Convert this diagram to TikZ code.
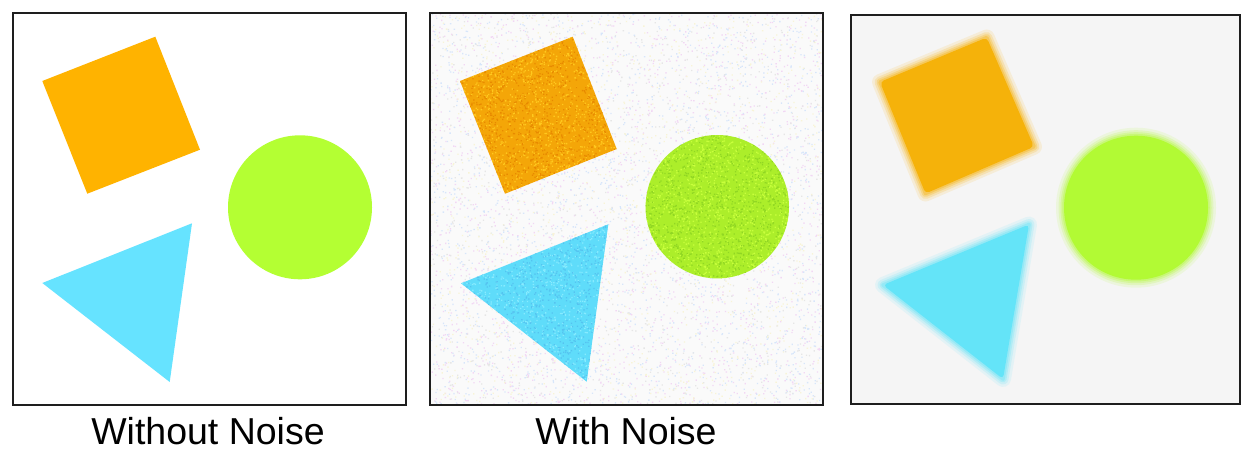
\documentclass[tikz,border=0pt]{standalone}
\usepackage{fontspec}
\setmainfont{Liberation Sans}
\definecolor{sqor}{RGB}{255,179,0}
\definecolor{cigr}{RGB}{180,255,51}
\definecolor{trcy}{RGB}{102,227,255}
\definecolor{nbg}{RGB}{250,250,250}
\definecolor{nsq}{RGB}{244,166,8}
\definecolor{nsqa}{RGB}{255,200,30}
\definecolor{nsqb}{RGB}{232,138,0}
\definecolor{nci}{RGB}{172,238,42}
\definecolor{ncia}{RGB}{200,255,60}
\definecolor{ncib}{RGB}{145,215,35}
\definecolor{ntr}{RGB}{95,220,250}
\definecolor{ntra}{RGB}{135,235,255}
\definecolor{ntrb}{RGB}{85,195,240}
\definecolor{npk}{RGB}{242,215,244}
\definecolor{nbl}{RGB}{215,230,250}
\definecolor{nye}{RGB}{248,244,215}
\definecolor{ngy}{RGB}{230,230,230}
\definecolor{bbg}{RGB}{245,245,245}
\definecolor{bsq}{RGB}{245,178,10}
\definecolor{bci}{RGB}{178,250,52}
\definecolor{btr}{RGB}{100,228,248}
\definecolor{framec}{RGB}{30,30,30}
\tikzset{
  frame/.style={draw=framec,line width=1.3pt},
  lbl/.style={anchor=base,font=\fontsize{37.5}{44}\selectfont,text=black,inner sep=0pt},
}
\newcommand{\noisedots}[6]{% color, count, x0, y0, w, h
  \fill[#1] \foreach \i in {1,...,#2}{({#3+#5*rnd},{#4+#6*rnd}) rectangle ++(1.3,1.3)};
}
\begin{document}
\begin{tikzpicture}[x=1pt,y=-1pt]
\pgfmathsetseed{42}
\useasboundingbox (0,0) rectangle (1241,457);
\fill[white] (0,0) rectangle (1241,457);

% ---------- Panel 1: without noise ----------
\fill[sqor] (42.3,81) -- (155.3,36.7) -- (200,149.7) -- (87.3,193.7) -- cycle;
\fill[cigr] (300,207.3) circle[radius=72pt];
\fill[trcy] (42.3,283) -- (192,223.3) -- (169.7,382) -- cycle;
\draw[frame] (13,13) rectangle (406,405);
\node[lbl] (t1) at (208,444.3) {Without Noise};

% ---------- Panel 2: with noise ----------
\fill[nbg] (430,13) rectangle (823,405);
\begin{scope}
  \clip (430,13) rectangle (823,405);
  \noisedots{npk}{2000}{430}{13}{393}{392}
  \noisedots{nbl}{2000}{430}{13}{393}{392}
  \noisedots{nye}{1400}{430}{13}{393}{392}
  \noisedots{ngy}{1000}{430}{13}{393}{392}
\end{scope}
% square
\fill[nsq] (460,81) -- (572.7,36.7) -- (616.7,149) -- (505,193.7) -- cycle;
\begin{scope}
  \clip (460,81) -- (572.7,36.7) -- (616.7,149) -- (505,193.7) -- cycle;
  \noisedots{nsqa}{1300}{460}{36}{157}{158}
  \noisedots{nsqb}{1300}{460}{36}{157}{158}
\end{scope}
% circle
\fill[nci] (717.3,206.7) circle[radius=71.7pt];
\begin{scope}
  \clip (717.3,206.7) circle[radius=71.7pt];
  \noisedots{ncia}{1200}{645}{134}{145}{145}
  \noisedots{ncib}{1200}{645}{134}{145}{145}
\end{scope}
% triangle
\fill[ntr] (461,283.3) -- (608.3,224.3) -- (586.7,381.7) -- cycle;
\begin{scope}
  \clip (461,283.3) -- (608.3,224.3) -- (586.7,381.7) -- cycle;
  \noisedots{ntra}{1100}{460}{223}{150}{160}
  \noisedots{ntrb}{1100}{460}{223}{150}{160}
\end{scope}
\draw[frame] (430,13) rectangle (823,405);
\node[lbl] (t2) at (626,444.3) {With Noise};

% ---------- Panel 3: denoised (blurred) ----------
\fill[bbg] (851,15) rectangle (1240,404);
\foreach \w/\o in {16/0.12,11/0.18,7/0.25,3.5/0.35}{
  \draw[bsq,line width=\w pt,opacity=\o,line join=round]
    (880,82) -- (986.7,37.5) -- (1034,146.7) -- (925.5,193.5) -- cycle;
  \draw[bci,line width=\w pt,opacity=\o] (1136,207.7) circle[radius=72pt];
  \draw[btr,line width=\w pt,opacity=\o,line join=round]
    (883,285) -- (1029,224.5) -- (1003,379) -- cycle;
}
\fill[bsq,rounded corners=4pt] (880,82) -- (986.7,37.5) -- (1034,146.7) -- (925.5,193.5) -- cycle;
\fill[bci] (1136,207.7) circle[radius=72pt];
\fill[btr,rounded corners=4pt] (883,285) -- (1029,224.5) -- (1003,379) -- cycle;
\draw[frame,line width=1.8pt] (851,15) rectangle (1240,404);
\end{tikzpicture}
\end{document}
